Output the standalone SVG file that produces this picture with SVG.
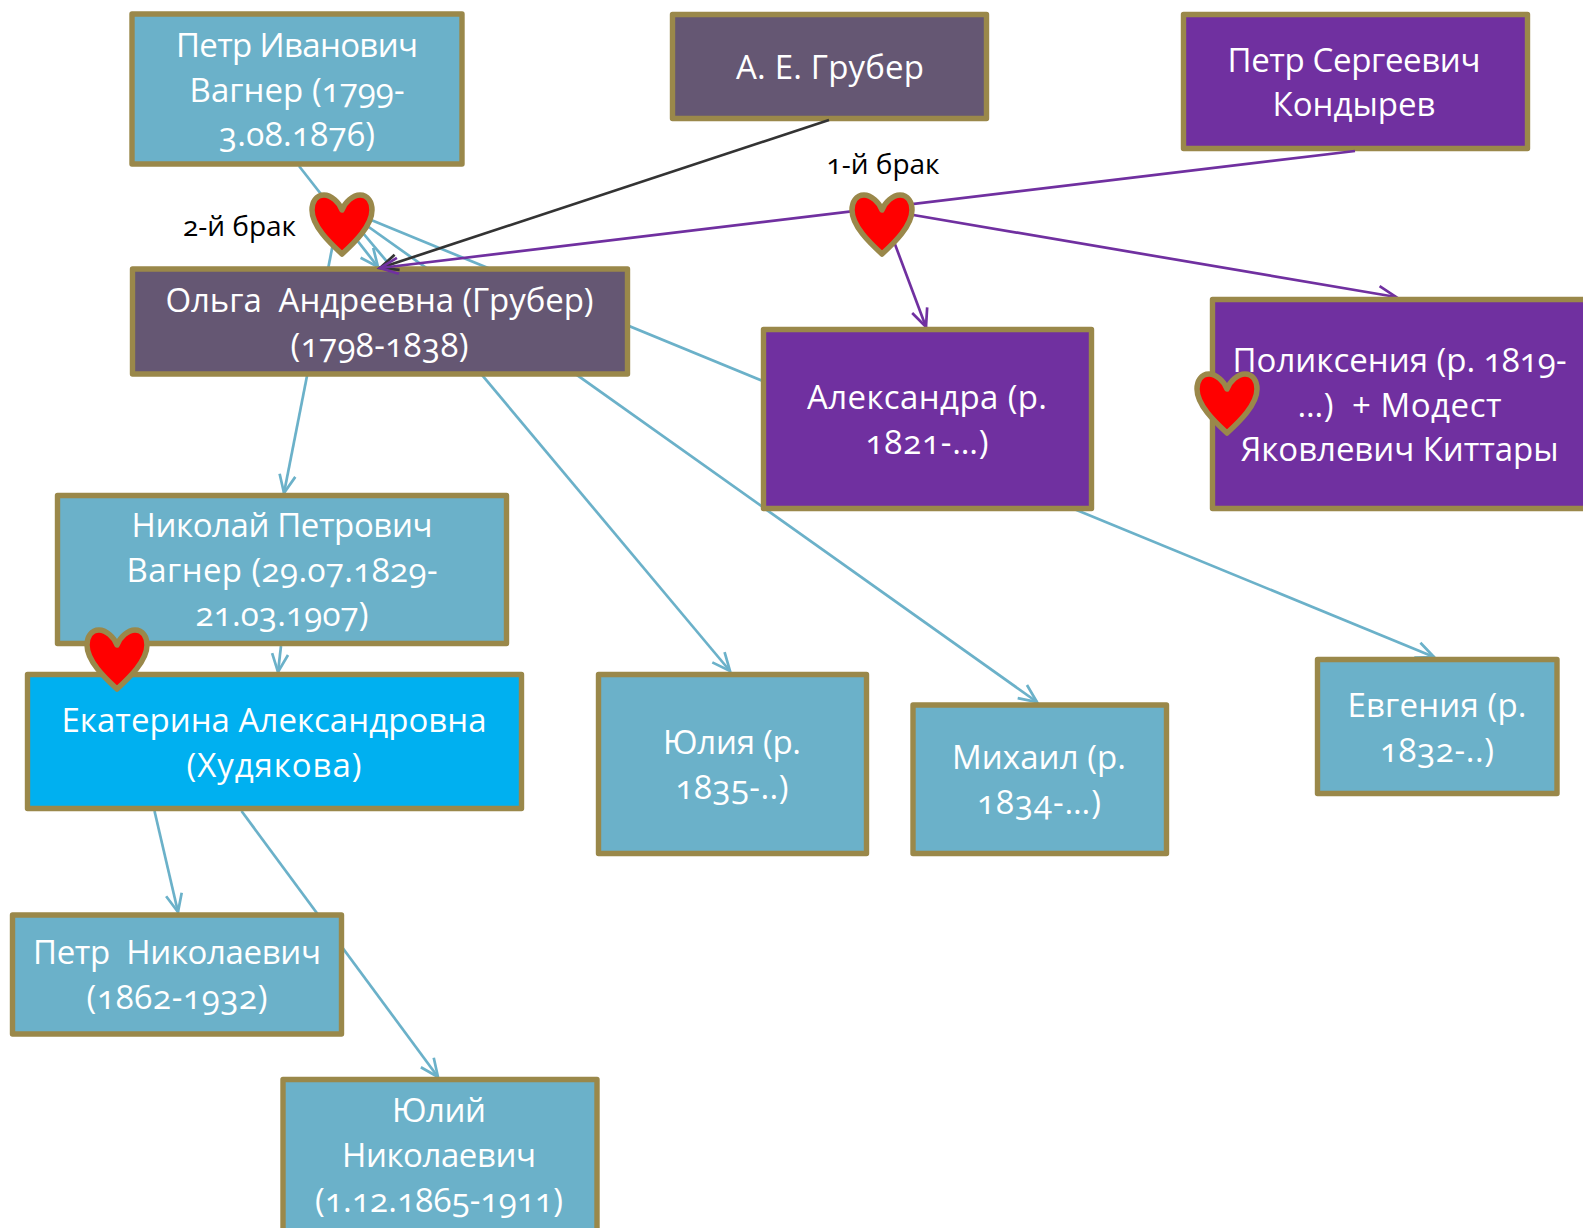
<svg xmlns="http://www.w3.org/2000/svg" width="1583" height="1228" viewBox="0 0 1583 1228">
<style>
.box{stroke:#9A884A;stroke-width:5.4;stroke-linejoin:round}
.blue{fill:#6BB1C9}.dark{fill:#655773}.purple{fill:#7030A0}.cyan{fill:#00B0F0}
.t{fill:#fff;font-family:"Open Sans","Noto Sans","Liberation Sans",sans-serif;font-size:33px;text-anchor:middle;font-variant-numeric:oldstyle-nums;white-space:pre}
.l{fill:#000;font-family:"Open Sans","Noto Sans","Liberation Sans",sans-serif;font-size:28px;text-anchor:middle;font-variant-numeric:oldstyle-nums}
.c{fill:none;stroke-width:2.7}
.cb{stroke:#6BB1C9}.cp{stroke:#7030A0}.ck{stroke:#333}
.heart{fill:#f00;stroke:#9A884A;stroke-width:5.5;stroke-linejoin:round}
</style>
<defs>
<marker id="ab" markerUnits="userSpaceOnUse" markerWidth="30" markerHeight="30" refX="20" refY="15" orient="auto" viewBox="0 0 30 30"><path d="M2,7 L20,15 L2,23" fill="none" stroke="#6BB1C9" stroke-width="2.7"/></marker>
<marker id="ap" markerUnits="userSpaceOnUse" markerWidth="30" markerHeight="30" refX="20" refY="15" orient="auto" viewBox="0 0 30 30"><path d="M2,7 L20,15 L2,23" fill="none" stroke="#7030A0" stroke-width="2.7"/></marker>
<marker id="ak" markerUnits="userSpaceOnUse" markerWidth="30" markerHeight="30" refX="20" refY="15" orient="auto" viewBox="0 0 30 30"><path d="M2,7 L20,15 L2,23" fill="none" stroke="#333" stroke-width="2.7"/></marker>
<path id="h" d="M0,18 C-3,10 -11,3 -18,3 C-26,3 -30,10 -30,18 C-30,34 -12,51 0,62 C12,51 30,34 30,18 C30,10 26,3 18,3 C11,3 3,10 0,18 Z"/>
</defs>
<g id="connectors">
<path class="c cb" d="M299,166L378,267" marker-end="url(#ab)"/>
<path class="c cb" d="M340,208L284,493" marker-end="url(#ab)"/>
<path class="c cb" d="M342,208L730,671" marker-end="url(#ab)"/>
<path class="c cb" d="M342,208L1037,702" marker-end="url(#ab)"/>
<path class="c cb" d="M342,208L1434,657" marker-end="url(#ab)"/>
<path class="c cb" d="M281,646L278,672" marker-end="url(#ab)"/>
<path class="c cb" d="M154.500,811L178,912" marker-end="url(#ab)"/>
<path class="c cb" d="M241.500,811L438,1077" marker-end="url(#ab)"/>
<path class="c cp" d="M884,215L926,327" marker-end="url(#ap)"/>
<path class="c cp" d="M884,210L1396,297" marker-end="url(#ap)"/>
</g>
<g id="n1"><rect class="box blue" x="132" y="14" width="330" height="150"/><text class="t" x="297" y="57" textLength="242">Петр Иванович</text><text class="t" x="297" y="102" textLength="215">Вагнер (1799-</text><text class="t" x="297" y="146" textLength="156">3.08.1876)</text></g>
<g id="n2"><rect class="box dark" x="672.500" y="14.500" width="314" height="104"/><text class="t" x="830" y="79" textLength="188">А. Е. Грубер</text></g>
<g id="n3"><rect class="box purple" x="1183.500" y="14.500" width="344" height="134"/><text class="t" x="1354" y="72" textLength="253">Петр Сергеевич</text><text class="t" x="1354" y="116" textLength="163">Кондырев</text></g>
<g id="n4"><rect class="box dark" x="132.500" y="269" width="495" height="105"/><text class="t" x="379.500" y="312" textLength="428">Ольга  Андреевна (Грубер)</text><text class="t" x="379.500" y="357" textLength="178">(1798-1838)</text></g>
<g id="n5"><rect class="box purple" x="763.500" y="329.500" width="328" height="179"/><text class="t" x="927" y="409" textLength="240">Александра (р.</text><text class="t" x="927" y="454" textLength="123">1821-…)</text></g>
<g id="n6"><rect class="box purple" x="1212.500" y="299.500" width="381" height="209"/><text class="t" x="1399.500" y="372" textLength="334">Поликсения (р. 1819-</text><text class="t" x="1399.500" y="417" textLength="204">…)  + Модест</text><text class="t" x="1399.500" y="461" textLength="318">Яковлевич Киттары</text></g>
<g id="n7"><rect class="box blue" x="57.500" y="495.500" width="449" height="148"/><text class="t" x="282" y="537" textLength="301">Николай Петрович</text><text class="t" x="282" y="582" textLength="311">Вагнер (29.07.1829-</text><text class="t" x="282" y="626" textLength="173">21.03.1907)</text></g>
<g id="n8"><rect class="box cyan" x="27.500" y="674.500" width="494" height="134"/><text class="t" x="274" y="732" textLength="425">Екатерина Александровна</text><text class="t" x="274" y="777" textLength="175">(Худякова)</text></g>
<g id="n9"><rect class="box blue" x="598.500" y="674.500" width="268" height="179"/><text class="t" x="732" y="754" textLength="138">Юлия (р.</text><text class="t" x="732" y="799" textLength="113">1835-..)</text></g>
<g id="n10"><rect class="box blue" x="913" y="705" width="253.500" height="148.500"/><text class="t" x="1039" y="769" textLength="174">Михаил (р.</text><text class="t" x="1039" y="814" textLength="124">1834-…)</text></g>
<g id="n11"><rect class="box blue" x="1317.500" y="659.500" width="239.500" height="134"/><text class="t" x="1437" y="717" textLength="179">Евгения (р.</text><text class="t" x="1437" y="762" textLength="114">1832-..)</text></g>
<g id="n12"><rect class="box blue" x="12.500" y="915" width="329" height="119"/><text class="t" x="177" y="964" textLength="288">Петр  Николаевич</text><text class="t" x="177" y="1009" textLength="181">(1862-1932)</text></g>
<g id="n13"><rect class="box blue" x="283" y="1079.500" width="314" height="160"/><text class="t" x="439" y="1122" textLength="94">Юлий</text><text class="t" x="439" y="1167" textLength="194">Николаевич</text><text class="t" x="439" y="1212" textLength="248">(1.12.1865-1911)</text></g>
<g id="connectors-over">
<path class="c ck" d="M829,120L380,268" marker-end="url(#ak)"/>
<path class="c cp" d="M1355,151L380,268" marker-end="url(#ap)"/>
</g>
<g id="h1"><use class="heart" href="#h" x="342" y="192"/></g>
<g id="h2"><use class="heart" href="#h" x="882" y="192"/></g>
<g id="h3"><use class="heart" href="#h" x="117" y="627"/></g>
<g id="h4"><use class="heart" href="#h" x="1227" y="371"/></g>
<text class="l" x="239.500" y="236">2-й брак</text>
<text class="l" x="883" y="174">1-й брак</text>
</svg>
